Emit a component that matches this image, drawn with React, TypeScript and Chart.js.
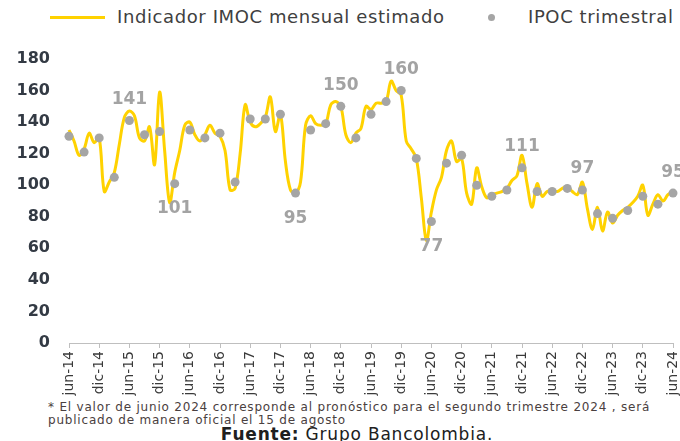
import { useEffect, useRef } from "react";
import { Chart, registerables } from "chart.js";

Chart.register(...registerables);

// ---- data ----
const monthNames = ["ene", "feb", "mar", "abr", "may", "jun", "jul", "ago", "sep", "oct", "nov", "dic"];
const firstYear = 2014;
const firstMonthIndex = 5; // jun
const monthCount = 121; // jun-14 .. jun-24

const categories: string[] = [];
for (let i = 0; i < monthCount; i++) {
  const k = firstMonthIndex + i;
  const yy = (firstYear + Math.floor(k / 12)) % 100;
  categories.push(`${monthNames[k % 12]}-${String(yy).padStart(2, "0")}`);
}

const tickLabels = [
  "jun-14", "dic-14", "jun-15", "dic-15", "jun-16", "dic-16", "jun-17", "dic-17",
  "jun-18", "dic-18", "jun-19", "dic-19", "jun-20", "dic-20", "jun-21", "dic-21",
  "jun-22", "dic-22", "jun-23", "dic-23", "jun-24",
];

// Indicador IMOC mensual estimado (monthly, jun-14 .. jun-24)
const imocMensual = [
  135, 128, 119, 123, 133, 127, 130, 96, 102, 108, 126, 143,
  147, 144, 130, 128, 137, 113, 159, 122, 89, 108, 122, 138,
  140, 132, 128, 132, 138, 133, 131, 122, 97, 98, 120, 151,
  140, 137, 139, 143, 156, 134, 145, 115, 97, 95, 102, 138,
  144, 139, 138, 139, 151, 153, 150, 132, 127, 133, 136, 150,
  148, 152, 152, 153, 166, 160, 157, 128, 123, 117, 92, 65,
  83, 97, 105, 122, 128, 115, 117, 95, 88, 111, 99, 92,
  94, 95, 96, 98, 103, 106, 119, 101, 86, 101, 93, 96,
  97, 96, 98, 99, 96, 94, 102, 85, 72, 86, 71, 83,
  76, 81, 84, 86, 89, 93, 100, 81, 88, 94, 90, 94,
  96,
];

// IPOC trimestral (quarterly: jun-14, sep-14, dic-14, ... jun-24)
const ipocTrimestral = [
  131, 121, 130, 105, 141, 132, 134, 101, 135, 130, 133, 102,
  142, 142, 145, 95, 135, 139, 150, 130, 145, 153, 160, 117,
  77, 114, 119, 100, 93, 97, 111, 96, 96, 98, 97, 82,
  79, 84, 93, 88, 95,
];

// which quarterly points carry a value label, and where
const labeledQuarters = [4, 7, 15, 18, 22, 24, 30, 34, 40];
const labelSides = ["above", "below", "below", "above", "above", "below", "above", "above", "above"];

const yTicks = { min: 0, max: 180, step: 20 };

const ipocSeries: (number | null)[] = categories.map((_, i) =>
  i % 3 === 0 ? ipocTrimestral[i / 3] : null
);

const FONT = "'DejaVu Sans', sans-serif";

const valueLabelPlugin = {
  id: "valueLabels",
  afterDatasetsDraw(chart: any) {
    const meta = chart.getDatasetMeta(0);
    const ctx = chart.ctx;
    ctx.save();
    ctx.font = `bold 17px ${FONT}`;
    ctx.fillStyle = "#a3a3a3";
    ctx.textAlign = "center";
    ctx.textBaseline = "middle";
    labeledQuarters.forEach((q, k) => {
      const el = meta.data[q * 3];
      if (!el) return;
      const v = ipocTrimestral[q];
      const dy = labelSides[k] === "above" ? -21 : 25;
      ctx.fillText(String(v), el.x, el.y + dy);
    });
    ctx.restore();
  },
};

export default function App() {
  const canvasRef = useRef<HTMLCanvasElement>(null);

  useEffect(() => {
    if (!canvasRef.current) return;
    const tickSet = new Set(tickLabels);
    const chart = new Chart(canvasRef.current, {
      type: "line",
      data: {
        labels: categories,
        datasets: [
          {
            label: "IPOC trimestral",
            data: ipocSeries,
            showLine: false,
            pointRadius: 4.5,
            pointBackgroundColor: "#a5a5a5",
            pointBorderWidth: 0,
            pointHoverRadius: 4.5,
            clip: false as any,
          },
          {
            label: "Indicador IMOC mensual estimado",
            data: imocMensual,
            borderColor: "#ffd200",
            borderWidth: 3,
            pointRadius: 0,
            tension: 0.35,
            fill: false,
            clip: false as any,
          },
        ],
      },
      options: {
        animation: false,
        responsive: false,
        events: [],
        layout: { padding: { top: 19, right: 7, left: 0, bottom: 0 } },
        plugins: {
          legend: { display: false },
          tooltip: { enabled: false },
        },
        scales: {
          x: {
            type: "category",
            offset: false,
            grid: {
              display: true,
              drawOnChartArea: false,
              drawTicks: true,
              tickLength: 5,
              color: (c: any) => (tickSet.has(categories[c.index]) ? "#bfbfbf" : "rgba(0,0,0,0)"),
              tickColor: (c: any) => (tickSet.has(categories[c.index]) ? "#bfbfbf" : "rgba(0,0,0,0)"),
            },
            border: { display: true, color: "#bfbfbf", width: 1 },
            ticks: {
              autoSkip: false,
              minRotation: 90,
              maxRotation: 90,
              padding: 3,
              color: "#3a3a3a",
              font: { family: FONT, size: 14 },
              callback: (_v: any, i: number) => (tickSet.has(categories[i]) ? categories[i] : ""),
            },
            afterFit: (s: any) => {
              s.height = 57;
              s.paddingLeft = 0;
              s.paddingRight = 0;
            },
          },
          y: {
            min: yTicks.min,
            max: yTicks.max,
            grid: { display: false, drawTicks: false },
            border: { display: false },
            ticks: {
              stepSize: yTicks.step,
              padding: 19,
              color: "#333a44",
              font: { family: FONT, size: 16, weight: "bold" },
            },
            afterFit: (s: any) => {
              s.width = 69;
              s.paddingTop = 0;
              s.paddingBottom = 0;
            },
          },
        },
      },
      plugins: [valueLabelPlugin],
    });
    return () => chart.destroy();
  }, []);

  const textColor = "#404040";

  return (
    <div
      style={{
        position: "fixed",
        left: 0,
        top: 0,
        width: 680,
        height: 441,
        background: "#ffffff",
        overflow: "hidden",
        fontFamily: FONT,
      }}
    >
      {/* legend */}
      <div style={{ position: "absolute", left: 50, top: 16, width: 55, height: 3, background: "#ffd200" }} />
      <div
        style={{
          position: "absolute",
          left: 117,
          top: 6,
          fontSize: 18,
          lineHeight: "22px",
          letterSpacing: 0.6,
          color: textColor,
          whiteSpace: "nowrap",
        }}
      >
        Indicador IMOC mensual estimado
      </div>
      <div
        style={{
          position: "absolute",
          left: 488,
          top: 14,
          width: 7,
          height: 7,
          borderRadius: "50%",
          background: "#a5a5a5",
        }}
      />
      <div
        style={{
          position: "absolute",
          left: 528,
          top: 6,
          fontSize: 18,
          lineHeight: "22px",
          letterSpacing: 0.6,
          color: textColor,
          whiteSpace: "nowrap",
        }}
      >
        IPOC trimestral
      </div>

      <canvas
        ref={canvasRef}
        width={680}
        height={360}
        style={{ position: "absolute", left: 0, top: 40, width: 680, height: 360 }}
      />

      {/* footnote */}
      <div
        style={{
          position: "absolute",
          left: 48,
          top: 401,
          fontSize: 12,
          lineHeight: "13px",
          letterSpacing: 0.8,
          color: "#4a4040",
          whiteSpace: "nowrap",
        }}
      >
        * El valor de junio 2024 corresponde al pronóstico para el segundo trimestre 2024 , será
        <br />
        publicado de manera oficial el 15 de agosto
      </div>
      <div
        style={{
          position: "absolute",
          left: 0,
          width: 714,
          top: 425,
          textAlign: "center",
          fontSize: 17,
          lineHeight: "19px",
          letterSpacing: 0.8,
          color: "#202020",
          whiteSpace: "nowrap",
        }}
      >
        <b>Fuente:</b> Grupo Bancolombia.
      </div>
    </div>
  );
}
